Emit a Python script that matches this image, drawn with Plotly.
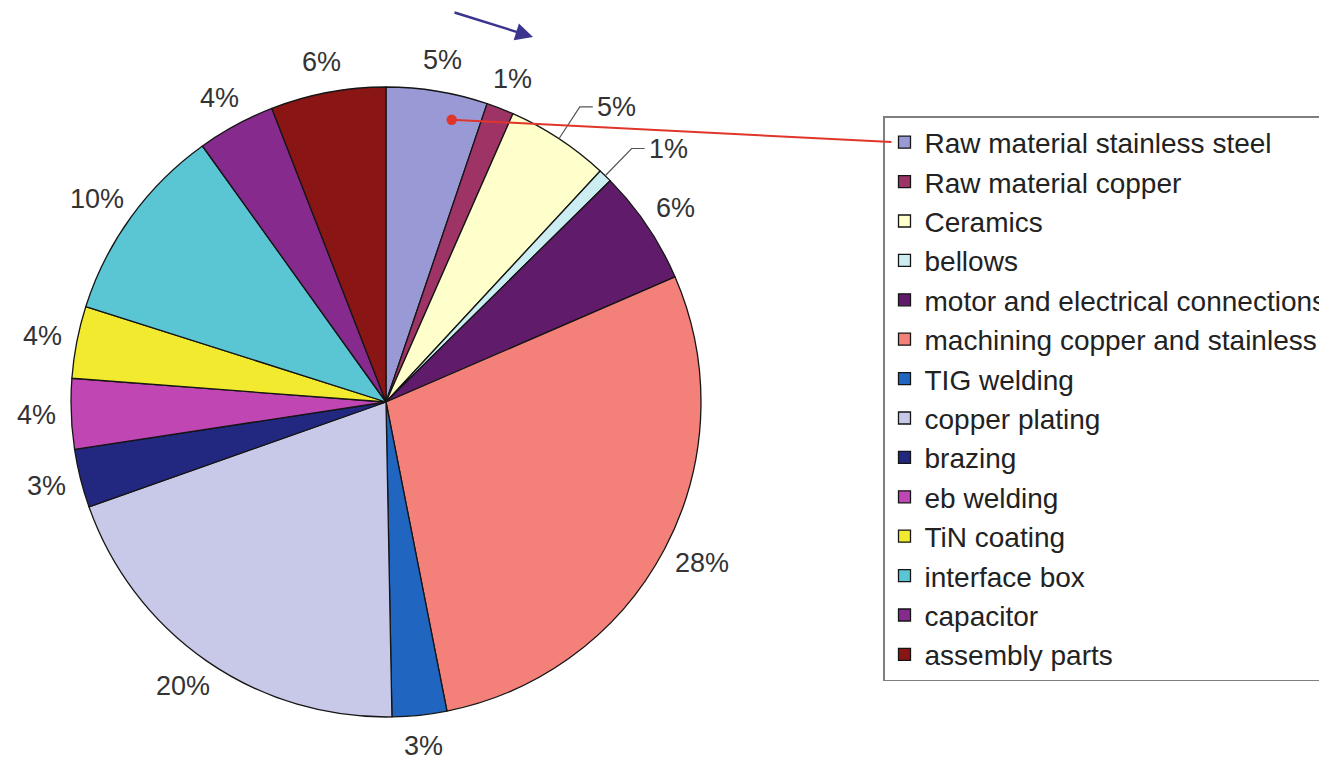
import math
import plotly.graph_objects as go

# Cost breakdown by item (share of total, %), clockwise from 12 o'clock
labels = [
    "Raw material stainless steel",
    "Raw material copper",
    "Ceramics",
    "bellows",
    "motor and electrical connections",
    "machining copper and stainless",
    "TIG welding",
    "copper plating",
    "brazing",
    "eb welding",
    "TiN coating",
    "interface box",
    "capacitor",
    "assembly parts",
]
values = [5.2, 1.4, 5.3, 0.7, 5.9, 28.4, 2.8, 19.9, 3.0, 3.6, 3.7, 10.2, 4.0, 5.9]
colors = [
    "#9999D6", "#9E3366", "#FFFFCC", "#CCEEF2", "#601B6B", "#F4807A", "#2066C0",
    "#C8C8E8", "#22277F", "#C046B4", "#F2EA2E", "#5BC6D3", "#862A8E", "#8A1515",
]
# slices whose percentage label sits on a leader line
leader_labels = ["Ceramics", "bellows"]

W, H = 1319, 765
cx, cy, R = 386, 402, 315          # pie centre and radius in pixels
LABEL_FONT = 27
LABEL_GAP = 15


def px(x, y):
    """pixel position -> paper coordinates"""
    return x / W, 1 - y / H


fig = go.Figure(
    go.Pie(
        labels=labels,
        values=values,
        sort=False,
        direction="clockwise",
        rotation=0,
        textinfo="none",
        hoverinfo="label+percent",
        marker=dict(colors=colors, line=dict(color="#151515", width=1.3)),
        domain=dict(x=[(cx - R) / W, (cx + R) / W],
                    y=[1 - (cy + R) / H, 1 - (cy - R) / H]),
    )
)

total = sum(values)
annotations = []
shapes = []
cum = 0.0
starts, spans = [], []
for lab, v in zip(labels, values):
    frac = v / total
    starts.append(cum)
    spans.append(frac)
    ang = 2 * math.pi * (cum + frac / 2)       # clockwise from top
    cum += frac
    s, c = math.sin(ang), math.cos(ang)
    text = f"{round(frac * 100):d}%"
    tw = LABEL_FONT * (0.556 * (len(text) - 1) + 0.889)
    th = LABEL_FONT * 1.2
    if lab in leader_labels:
        ax0, ay0 = cx + R * s, cy - R * c
        ex, ey = cx + (R + 38) * s, cy - (R + 38) * c
        hx = ex + 13
        p0, p1, p2 = px(ax0, ay0), px(ex, ey), px(hx, ey)
        shapes.append(dict(
            type="path", xref="paper", yref="paper",
            path=f"M {p0[0]} {p0[1]} L {p1[0]} {p1[1]} L {p2[0]} {p2[1]}",
            line=dict(color="#555555", width=1.2),
        ))
        tx, ty = px(hx + 2, ey)
        annotations.append(dict(
            x=tx, y=ty, xref="paper", yref="paper", text=text, showarrow=False,
            xanchor="left", yanchor="middle",
            font=dict(size=LABEL_FONT, color="#333333"),
        ))
    else:
        d = R + LABEL_GAP
        x0 = cx + d * s + s * tw / 2
        y0 = cy - d * c - c * th / 2
        tx, ty = px(x0, y0)
        annotations.append(dict(
            x=tx, y=ty, xref="paper", yref="paper", text=text, showarrow=False,
            xanchor="center", yanchor="middle",
            font=dict(size=LABEL_FONT, color="#333333"),
        ))

# legend box placement (pixels)
LEG_X, LEG_Y = 883, 116
LEG_FONT = 28

# red pointer from the first legend entry into its slice
a0 = 2 * math.pi * (starts[0] + 0.7 * spans[0])
head_x, head_y = cx + 0.92 * R * math.sin(a0), cy - 0.92 * R * math.cos(a0)
tail_x, tail_y = LEG_X + 10, LEG_Y + 26
hx, hy = px(head_x, head_y)
annotations.append(dict(
    x=hx, y=hy, xref="paper", yref="paper",
    ax=tail_x - head_x, ay=tail_y - head_y,
    text="", showarrow=True, arrowhead=6, arrowsize=1.3, arrowwidth=2,
    arrowcolor="#E0352B", standoff=0,
))

# direction-of-reading arrow above the pie
h0 = px(533, 37)
annotations.append(dict(
    x=h0[0], y=h0[1], xref="paper", yref="paper",
    ax=453 - 533, ay=12 - 37,
    text="", showarrow=True, arrowhead=2, arrowsize=1.4, arrowwidth=2.5,
    arrowcolor="#3B3590", standoff=0,
))

fig.update_layout(
    width=W,
    height=H,
    margin=dict(l=0, r=0, t=0, b=0, autoexpand=False),
    paper_bgcolor="white",
    plot_bgcolor="white",
    font=dict(family="Liberation Sans, Arial, sans-serif", color="#333333"),
    showlegend=True,
    legend=dict(
        x=LEG_X / W, y=1 - LEG_Y / H, xanchor="left", yanchor="top",
        bgcolor="white", bordercolor="#7f7f7f", borderwidth=1.5,
        font=dict(size=LEG_FONT, color="#222222"),
        traceorder="normal", itemwidth=30,
    ),
    annotations=annotations,
    shapes=shapes,
)

fig.write_html("out.html")
